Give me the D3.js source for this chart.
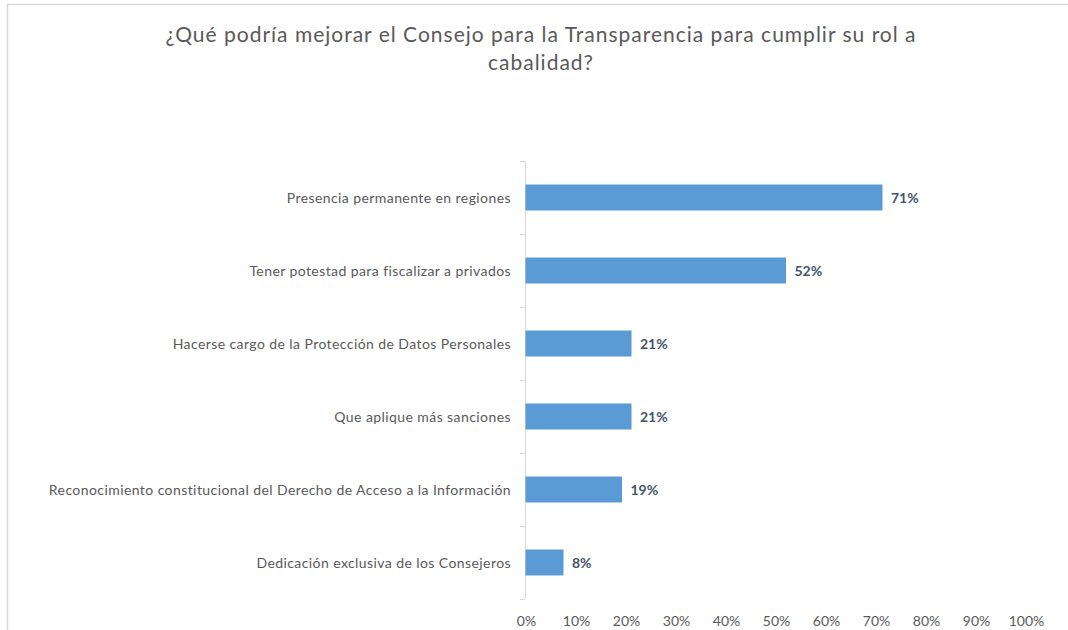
<!DOCTYPE html>
<html>
<head>
<meta charset="utf-8">
<script src="https://d3js.org/d3.v7.min.js"></script>
<style>
  body { margin: 0; background: #fff; }
  svg text { font-family: Lato, "Open Sans", sans-serif; }
</style>
</head>
<body>
<div id="chart"></div>
<script>
  var titleLines = ["¿Qué podría mejorar el Consejo para la Transparencia para cumplir su rol a",
                    "cabalidad?"];

  var categories = ["Presencia permanente en regiones",
                    "Tener potestad para fiscalizar a privados",
                    "Hacerse cargo de la Protección de Datos Personales",
                    "Que aplique más sanciones",
                    "Reconocimiento constitucional del Derecho de Acceso a la Información",
                    "Dedicación exclusiva de los Consejeros"];

  var values = [0.714, 0.521, 0.212, 0.212, 0.193, 0.076];

  var ticks = [0, 0.1, 0.2, 0.3, 0.4, 0.5, 0.6, 0.7, 0.8, 0.9, 1];

  var width = 1068, height = 630;

  var svg = d3.select("#chart")
              .append("svg")
              .attr("width", width)
              .attr("height", height);

  // chart frame, cut at right and bottom like the screenshot
  svg.append("rect")
     .attr("x", 7.5).attr("y", 4.5)
     .attr("width", 1080).attr("height", 640)
     .attr("fill", "none")
     .attr("stroke", "#d9d9d9")
     .attr("stroke-width", 1.5);

  svg.selectAll(".title")
     .data(titleLines)
     .enter()
     .append("text")
     .attr("class", "title")
     .attr("x", 541)
     .attr("y", function(d, i){ return 42 + i * 28; })
     .attr("text-anchor", "middle")
     .attr("font-size", 21)
     .attr("letter-spacing", "1px")
     .attr("fill", "#595959")
     .text(function(d){ return d; });

  var x = d3.scaleLinear().domain([0, 1]).range([525, 1025]);

  var y = d3.scaleBand()
            .domain(categories)
            .range([161, 599])
            .paddingInner(0.644)
            .paddingOuter(0.322);

  // category axis
  var yAxis = d3.axisLeft(y).tickSize(0).tickPadding(14);
  var gy = svg.append("g")
              .attr("transform", "translate(525,1)")
              .call(yAxis);
  gy.select(".domain").remove();
  gy.selectAll("text")
    .attr("font-family", "Lato, 'Open Sans', sans-serif")
    .attr("font-size", 14)
    .attr("letter-spacing", "0.42px")
    .attr("fill", "#595959");

  svg.append("line")
     .attr("x1", 525.5).attr("x2", 525.5)
     .attr("y1", 161).attr("y2", 599)
     .attr("stroke", "#d9d9d9");

  var bounds = [161].concat(categories.map(function(c){ return y(c) - y.step() * y.paddingInner() / 2 + y.step(); }));
  svg.selectAll(".ytick")
     .data(bounds)
     .enter()
     .append("line")
     .attr("class", "ytick")
     .attr("x1", 520).attr("x2", 525)
     .attr("y1", function(d){ return Math.round(d) + 0.5; })
     .attr("y2", function(d){ return Math.round(d) + 0.5; })
     .attr("stroke", "#d9d9d9");

  // value axis labels
  var xAxis = d3.axisBottom(x)
                .tickValues(ticks)
                .tickSize(0)
                .tickPadding(0)
                .tickFormat(d3.format(".0%"));
  var gx = svg.append("g")
              .attr("transform", "translate(1,616)")
              .call(xAxis);
  gx.select(".domain").remove();
  gx.selectAll("text")
    .attr("font-family", "Lato, 'Open Sans', sans-serif")
    .attr("font-size", 14)
    .attr("fill", "#595959");

  svg.selectAll(".bar")
     .data(values)
     .enter()
     .append("rect")
     .attr("class", "bar")
     .attr("x", x(0) + 0.5)
     .attr("y", function(d, i){ return y(categories[i]); })
     .attr("width", function(d){ return x(d) - x(0); })
     .attr("height", y.bandwidth())
     .attr("fill", "#5b9bd5");

  svg.selectAll(".val")
     .data(values)
     .enter()
     .append("text")
     .attr("class", "val")
     .attr("x", function(d){ return x(d) + 9; })
     .attr("y", function(d, i){ return y(categories[i]) + y.bandwidth() / 2 + 1; })
     .attr("dy", "0.35em")
     .attr("font-size", 14)
     .attr("font-weight", "bold")
     .attr("fill", "#44546a")
     .text(function(d){ return Math.round(d * 100) + "%"; });
</script>
</body>
</html>
